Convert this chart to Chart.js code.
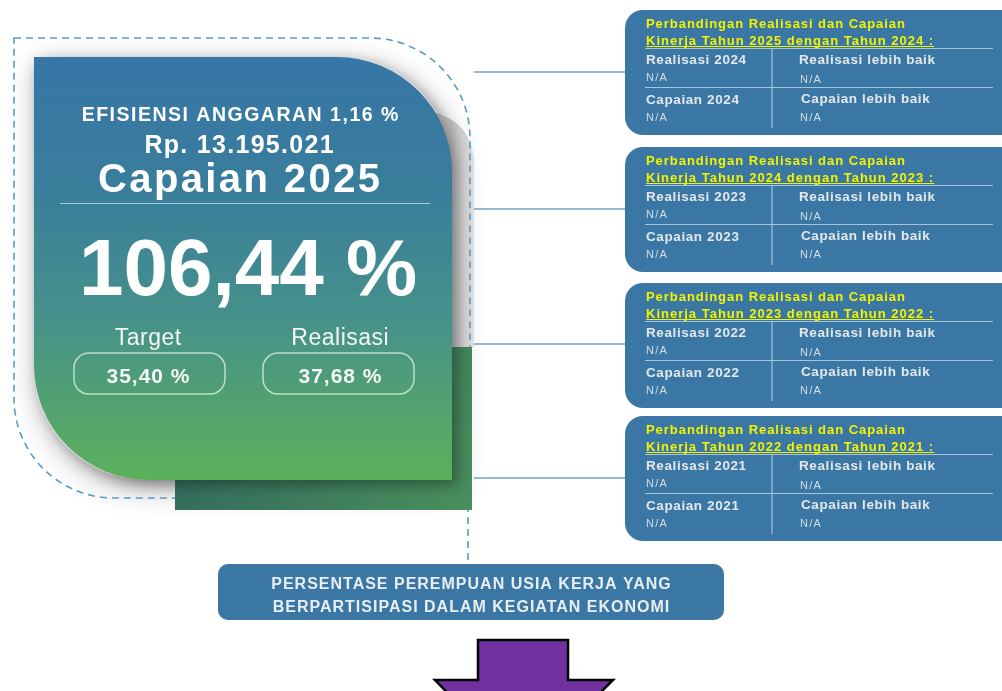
<!DOCTYPE html>
<html>
<head>
<meta charset="utf-8">
<script src="https://cdn.jsdelivr.net/npm/chart.js@4"></script>
<style>
  html, body { margin: 0; padding: 0; background: #ffffff; }
  #wrap { width: 1002px; height: 691px; }
</style>
</head>
<body>
<div id="wrap"><canvas id="infoChart" width="1002" height="691"></canvas></div>
<script>
// Data
const headerTexts = ['EFISIENSI ANGGARAN', 'Rp.', 'Capaian'];
const efisiensiPersen = [1.16];
const efisiensiRupiah = [13195021];
const tahunCapaian = [2025];
const capaianPersen = [106.44];
const ringkasanLabels = ['Target', 'Realisasi'];
const ringkasanValues = [35.40, 37.68];

// Perbandingan per tahun: tahun sekarang vs tahun pembanding
const tahunSekarang = [2025, 2024, 2023, 2022];
const tahunPembanding = [2024, 2023, 2022, 2021];
const realisasiLalu = ['N/A', 'N/A', 'N/A', 'N/A'];
const realisasiLebihBaik = ['N/A', 'N/A', 'N/A', 'N/A'];
const capaianLalu = ['N/A', 'N/A', 'N/A', 'N/A'];
const capaianLebihBaik = ['N/A', 'N/A', 'N/A', 'N/A'];

const indikatorLines = ['PERSENTASE PEREMPUAN USIA KERJA YANG', 'BERPARTISIPASI DALAM KEGIATAN EKONOMI'];

// Format angka gaya Indonesia
function persen(v) { return v.toFixed(2).replace('.', ',') + ' %'; }
function rupiah(v) { return v.toLocaleString('de-DE'); }

const FONT = '"Liberation Sans", Arial, sans-serif';

function roundRect(ctx, x, y, w, h, r) {
    ctx.beginPath();
    ctx.moveTo(x + r, y);
    ctx.lineTo(x + w - r, y);
    ctx.arcTo(x + w, y, x + w, y + r, r);
    ctx.lineTo(x + w, y + h - r);
    ctx.arcTo(x + w, y + h, x + w - r, y + h, r);
    ctx.lineTo(x + r, y + h);
    ctx.arcTo(x, y + h, x, y + h - r, r);
    ctx.lineTo(x, y + r);
    ctx.arcTo(x, y, x + r, y, r);
    ctx.closePath();
}

// Bentuk daun: sudut kanan atas & kiri bawah membulat
function leafPath(ctx, x, y, w, h, r) {
    ctx.beginPath();
    ctx.moveTo(x, y);
    ctx.lineTo(x + w - r, y);
    ctx.arcTo(x + w, y, x + w, y + r, r);
    ctx.lineTo(x + w, y + h);
    ctx.lineTo(x + r, y + h);
    ctx.arcTo(x, y + h, x, y + h - r, r);
    ctx.closePath();
}

function text(ctx, str, x, y, font, color, align, spacing) {
    ctx.font = font;
    ctx.fillStyle = color;
    ctx.textAlign = align || 'left';
    ctx.letterSpacing = (spacing || 0) + 'px';
    let dx = 0;
    if (align === 'center' && spacing) dx = spacing / 2;
    ctx.fillText(str, x + dx, y);
    ctx.letterSpacing = '0px';
}

function drawCompareBox(ctx, i, top) {
    const x = 625, w = 400, h = 125;
    ctx.fillStyle = '#3a77a4';
    roundRect(ctx, x, top, w, h, 18);
    ctx.fill();

    const yellow = '#f3f300';
    const tf = 'bold 13px ' + FONT;
    text(ctx, 'Perbandingan Realisasi dan Capaian', 646, top + 18, tf, yellow, 'left', 0.95);
    const line2 = 'Kinerja Tahun ' + tahunSekarang[i] + ' dengan Tahun ' + tahunPembanding[i] + ' :';
    text(ctx, line2, 646, top + 34.5, tf, yellow, 'left', 1.0);
    ctx.font = tf;
    ctx.letterSpacing = '1px';
    const uw = ctx.measureText(line2).width;
    ctx.letterSpacing = '0px';
    ctx.strokeStyle = yellow;
    ctx.lineWidth = 1;
    ctx.beginPath();
    ctx.moveTo(646, top + 36.5);
    ctx.lineTo(646 + uw, top + 36.5);
    ctx.stroke();

    // garis tabel
    ctx.strokeStyle = '#a9c3d8';
    ctx.lineWidth = 1.2;
    ctx.beginPath();
    ctx.moveTo(645, top + 38.5); ctx.lineTo(993, top + 38.5);
    ctx.moveTo(645, top + 77.5); ctx.lineTo(993, top + 77.5);
    ctx.moveTo(772, top + 38.5); ctx.lineTo(772, top + 118);
    ctx.stroke();

    const lab = 'bold 13.5px ' + FONT, val = '11px ' + FONT;
    const c1 = '#e4e8ec', c2 = '#d5dde5';
    text(ctx, 'Realisasi ' + tahunPembanding[i], 646, top + 54, lab, c1, 'left', 0.6);
    text(ctx, realisasiLalu[i], 646, top + 71, val, c2, 'left', 1.2);
    text(ctx, 'Realisasi lebih baik', 799, top + 54, lab, c1, 'left', 0.6);
    text(ctx, realisasiLebihBaik[i], 800, top + 73, val, c2, 'left', 1.2);
    text(ctx, 'Capaian ' + tahunPembanding[i], 646, top + 94, lab, c1, 'left', 0.6);
    text(ctx, capaianLalu[i], 646, top + 111, val, c2, 'left', 1.2);
    text(ctx, 'Capaian lebih baik', 801, top + 92.5, lab, c1, 'left', 0.6);
    text(ctx, capaianLebihBaik[i], 800, top + 111, val, c2, 'left', 1.2);
}

const infographicPlugin = {
    id: 'infographic',
    afterDraw(chart) {
        const ctx = chart.ctx;
        ctx.save();
        ctx.textBaseline = 'alphabetic';

        // bayangan lembut di belakang kartu
        ctx.save();
        ctx.shadowColor = 'rgba(0,0,0,0.30)';
        ctx.shadowBlur = 30;
        ctx.shadowOffsetX = 4;
        ctx.shadowOffsetY = 8;
        ctx.fillStyle = '#ffffff';
        leafPath(ctx, 34, 57, 418, 423, 112);
        ctx.fill();
        ctx.restore();
        // pita abu-abu di kanan kartu
        let g = ctx.createLinearGradient(452, 0, 474, 0);
        g.addColorStop(0, '#bdbdbd');
        g.addColorStop(1, '#dedede');
        ctx.fillStyle = g;
        ctx.beginPath();
        ctx.moveTo(420, 110);
        ctx.quadraticCurveTo(470, 115, 474, 160);
        ctx.lineTo(474, 347);
        ctx.lineTo(440, 347);
        ctx.closePath();
        ctx.fill();

        // garis putus-putus pembingkai
        ctx.strokeStyle = '#5b9bc8';
        ctx.lineWidth = 1.6;
        ctx.setLineDash([7, 5]);
        leafPath(ctx, 14, 38, 456, 460, 100);
        ctx.stroke();
        ctx.beginPath();
        ctx.moveTo(468, 505); ctx.lineTo(468, 563);
        ctx.stroke();
        ctx.setLineDash([]);

        // persegi gelap di belakang
        g = ctx.createLinearGradient(175, 347, 472, 510);
        g.addColorStop(0, '#2f635e');
        g.addColorStop(1, '#4a8f5c');
        ctx.fillStyle = g;
        ctx.fillRect(175, 347, 297, 163);

        // kartu utama
        ctx.save();
        ctx.shadowColor = 'rgba(0,0,0,0.35)';
        ctx.shadowBlur = 14;
        ctx.shadowOffsetX = 5;
        ctx.shadowOffsetY = 5;
        g = ctx.createLinearGradient(0, 57, 0, 480);
        g.addColorStop(0, '#3776a7');
        g.addColorStop(0.3, '#397d9c');
        g.addColorStop(0.62, '#46918a');
        g.addColorStop(1, '#5cb05a');
        ctx.fillStyle = g;
        leafPath(ctx, 34, 57, 418, 423, 115);
        ctx.fill();
        ctx.restore();

        // teks kartu utama
        text(ctx, headerTexts[0] + ' ' + persen(efisiensiPersen[0]), 240, 120.5, 'bold 19.5px ' + FONT, '#ffffff', 'center', 1.5);
        text(ctx, headerTexts[1] + ' ' + rupiah(efisiensiRupiah[0]), 239, 153, 'bold 25px ' + FONT, '#ffffff', 'center', 1.3);
        text(ctx, headerTexts[2] + ' ' + tahunCapaian[0], 239, 191.5, 'bold 40px ' + FONT, '#ffffff', 'center', 2.4);
        ctx.strokeStyle = 'rgba(200,220,232,0.8)';
        ctx.lineWidth = 1;
        ctx.beginPath();
        ctx.moveTo(60, 203.5); ctx.lineTo(430, 203.5);
        ctx.stroke();
        text(ctx, persen(capaianPersen[0]), 248, 295, 'bold 80px ' + FONT, '#ffffff', 'center', 0);

        const cx = [148, 340];
        const pillX = [74, 263];
        for (let k = 0; k < 2; k++) {
            text(ctx, ringkasanLabels[k], cx[k], 345, '23px ' + FONT, '#f4f7f4', 'center', 0.5);
            ctx.strokeStyle = 'rgba(230,240,235,0.75)';
            ctx.lineWidth = 1.5;
            roundRect(ctx, pillX[k], 353, 151, 41, 15);
            ctx.stroke();
            text(ctx, persen(ringkasanValues[k]), cx[k], 383, 'bold 21px ' + FONT, '#f4f7f4', 'center', 1);
        }

        // garis penghubung
        ctx.strokeStyle = '#97b8d2';
        ctx.lineWidth = 2;
        const boxTops = [10, 147, 283, 416];
        const linkY = [72, 209, 344, 478];
        ctx.beginPath();
        for (const y of linkY) { ctx.moveTo(474, y); ctx.lineTo(626, y); }
        ctx.stroke();

        boxTops.forEach((t, i) => drawCompareBox(ctx, i, t));

        // kotak indikator
        ctx.fillStyle = '#3a77a4';
        roundRect(ctx, 218, 564, 506, 56, 10);
        ctx.fill();
        text(ctx, indikatorLines[0], 471, 589, 'bold 16px ' + FONT, '#e9eef3', 'center', 1);
        text(ctx, indikatorLines[1], 471, 612, 'bold 16px ' + FONT, '#e9eef3', 'center', 1);

        // panah ke bawah
        ctx.fillStyle = '#7030a0';
        ctx.strokeStyle = '#000000';
        ctx.lineWidth = 2.5;
        ctx.beginPath();
        ctx.moveTo(478, 640);
        ctx.lineTo(568, 640);
        ctx.lineTo(568, 680);
        ctx.lineTo(613, 680);
        ctx.lineTo(523, 770);
        ctx.lineTo(435, 680);
        ctx.lineTo(478, 680);
        ctx.closePath();
        ctx.fill();
        ctx.stroke();

        ctx.restore();
    }
};

const infoChart = new Chart(document.getElementById('infoChart'), {
    type: 'bar',
    data: { labels: [], datasets: [] },
    options: {
        responsive: false,
        animation: false,
        events: [],
        layout: { padding: 0 },
        plugins: { legend: { display: false }, tooltip: { enabled: false }, title: { display: false } },
        scales: { x: { display: false }, y: { display: false } }
    },
    plugins: [infographicPlugin]
});
</script>
</body>
</html>
